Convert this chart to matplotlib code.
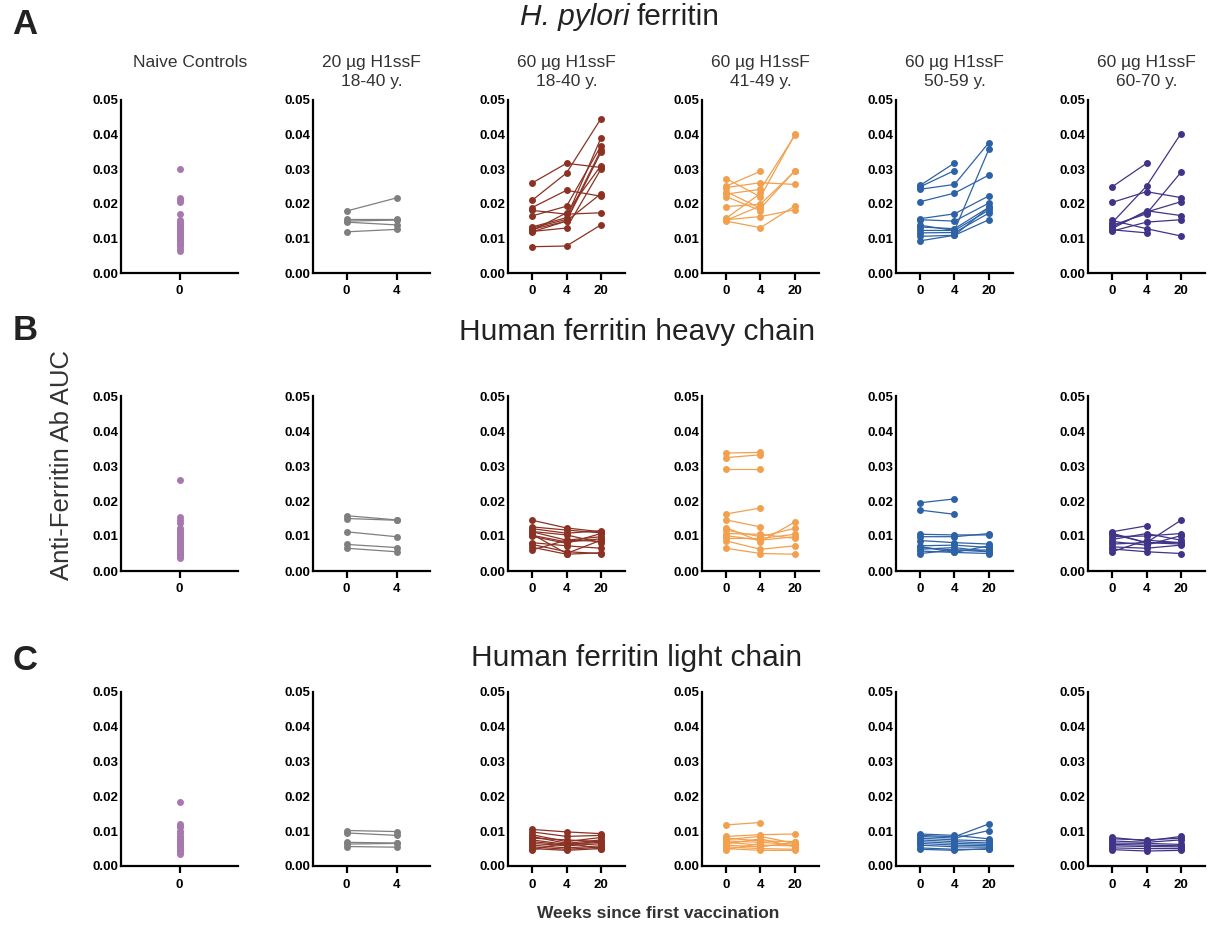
import numpy as np
import matplotlib
matplotlib.use("Agg")
import matplotlib.pyplot as plt

plt.rcParams['font.family'] = ['Liberation Sans', 'DejaVu Sans']

nan = np.nan

# column headers and colours
col_titles = ['Naive Controls', '20 µg H1ssF\n18-40 y.', '60 µg H1ssF\n18-40 y.',
              '60 µg H1ssF\n41-49 y.', '60 µg H1ssF\n50-59 y.', '60 µg H1ssF\n60-70 y.']
col_colors = ['#a877b0', '#7f7f7f', '#8c3224', '#f2a04e', '#2d62a6', '#3f3488']
row_titles = ['ferritin', 'Human ferritin heavy chain', 'Human ferritin light chain']
row_letters = ['A', 'B', 'C']
weeks_short = ['0', '4']
weeks_long = ['0', '4', '20']

# ---- row A : H. pylori ferritin ----
a_naive = [0.0302, 0.0218, 0.0212, 0.0204, 0.0171, 0.0152, 0.0148, 0.0143, 0.0139,
           0.0135, 0.0130, 0.0127, 0.0123, 0.0120, 0.0116, 0.0112, 0.0108, 0.0105,
           0.0101, 0.0097, 0.0093, 0.0088, 0.0083, 0.0077, 0.0070, 0.0063]
a_20_1840 = [[0.0179, 0.0217], [0.0155, 0.0155], [0.0150, 0.0153],
             [0.0147, 0.0139], [0.0119, 0.0126]]
a_60_1840 = [[0.0260, 0.0317, 0.0305], [0.0210, 0.0289, 0.0446], [0.0189, 0.0239, 0.0222],
             [0.0181, 0.0170, 0.0174], [0.0165, 0.0193, 0.0367], [0.0133, 0.0160, 0.0390],
             [0.0130, 0.0155, 0.0355], [0.0126, 0.0150, 0.0349], [0.0122, 0.0174, 0.0310],
             [0.0119, 0.0150, 0.0229], [0.0120, 0.0130, 0.0300], [0.0076, 0.0078, 0.0139]]
a_60_4149 = [[0.0273, 0.0220, 0.0401], [0.0251, 0.0294, nan], [0.0247, 0.0261, 0.0256],
             [0.0235, 0.0187, 0.0296], [0.0228, 0.0242, 0.0398], [0.0221, 0.0180, nan],
             [0.0192, 0.0199, 0.0294], [0.0158, 0.0230, nan], [0.0154, 0.0163, 0.0183],
             [0.0150, 0.0131, 0.0194], [0.0152, 0.0194, nan]]
a_60_5059 = [[0.0253, 0.0318, nan], [0.0249, 0.0296, nan], [0.0242, 0.0256, 0.0377],
             [0.0206, 0.0231, 0.0283], [0.0157, 0.0171, 0.0223], [0.0154, 0.0150, 0.0202],
             [0.0138, 0.0123, 0.0358], [0.0133, 0.0128, 0.0190], [0.0123, 0.0123, 0.0182],
             [0.0116, 0.0117, 0.0173], [0.0106, 0.0109, 0.0190], [0.0093, 0.0109, 0.0154]]
a_60_6070 = [[0.0249, 0.0317, nan], [0.0204, 0.0235, 0.0218], [0.0145, 0.0251, 0.0403],
             [0.0138, 0.0171, 0.0291], [0.0133, 0.0176, 0.0206], [0.0128, 0.0180, 0.0166],
             [0.0121, 0.0147, 0.0154], [0.0152, 0.0128, 0.0107], [0.0125, 0.0116, nan]]

# ---- row B : human ferritin heavy chain ----
b_naive = [0.0261, 0.0153, 0.0147, 0.0138, 0.0122, 0.0118, 0.0113, 0.0108, 0.0103,
           0.0098, 0.0093, 0.0088, 0.0083, 0.0079, 0.0074, 0.0070, 0.0066, 0.0062,
           0.0058, 0.0054, 0.0050, 0.0046, 0.0042, 0.0038]
b_20_1840 = [[0.0158, 0.0146], [0.0150, 0.0145], [0.0112, 0.0098],
             [0.0076, 0.0067], [0.0065, 0.0055]]
b_60_1840 = [[0.0145, 0.0123, 0.0112], [0.0126, 0.0117, 0.0109], [0.0121, 0.0108, 0.0115],
             [0.0112, 0.0088, 0.0098], [0.0105, 0.0050, 0.0088], [0.0099, 0.0079, 0.0107],
             [0.0113, 0.0103, 0.0081], [0.0081, 0.0072, 0.0065], [0.0076, 0.0055, 0.0050],
             [0.0068, 0.0048, 0.0052], [0.0060, 0.0088, 0.0085], [0.0102, 0.0083, 0.0092]]
b_60_4149 = [[0.0337, 0.0339, nan], [0.0324, 0.0332, nan], [0.0291, 0.0291, nan],
             [0.0163, 0.0180, nan], [0.0146, 0.0126, nan], [0.0124, 0.0084, 0.0140],
             [0.0117, 0.0098, 0.0122], [0.0107, 0.0105, 0.0093], [0.0101, 0.0088, 0.0098],
             [0.0093, 0.0093, 0.0105], [0.0086, 0.0062, 0.0072], [0.0065, 0.0050, 0.0048]]
b_60_5059 = [[0.0195, 0.0206, nan], [0.0174, 0.0162, nan], [0.0105, 0.0103, 0.0103],
             [0.0098, 0.0098, 0.0107], [0.0087, 0.0081, 0.0077], [0.0072, 0.0074, 0.0067],
             [0.0067, 0.0060, 0.0060], [0.0062, 0.0067, 0.0055], [0.0057, 0.0053, 0.0050],
             [0.0050, 0.0060, 0.0055], [0.0070, 0.0053, 0.0072]]
b_60_6070 = [[0.0112, 0.0129, nan], [0.0105, 0.0081, 0.0145], [0.0098, 0.0100, 0.0107],
             [0.0090, 0.0107, 0.0088], [0.0084, 0.0074, 0.0101], [0.0077, 0.0081, 0.0081],
             [0.0069, 0.0065, 0.0074], [0.0063, 0.0055, 0.0050], [0.0055, 0.0088, 0.0081],
             [0.0108, 0.0081, 0.0077]]

# ---- row C : human ferritin light chain ----
c_naive = [0.0185, 0.0121, 0.0116, 0.0111, 0.0100, 0.0095, 0.0087, 0.0083, 0.0079,
           0.0075, 0.0071, 0.0067, 0.0063, 0.0059, 0.0055, 0.0051, 0.0047, 0.0043,
           0.0039, 0.0035]
c_20_1840 = [[0.0102, 0.0099], [0.0095, 0.0088], [0.0068, 0.0066],
             [0.0063, 0.0065], [0.0056, 0.0054]]
c_60_1840 = [[0.0105, 0.0098, 0.0093], [0.0098, 0.0085, 0.0088], [0.0090, 0.0070, 0.0082],
             [0.0085, 0.0065, 0.0075], [0.0080, 0.0075, 0.0070], [0.0075, 0.0062, 0.0068],
             [0.0070, 0.0060, 0.0072], [0.0065, 0.0058, 0.0064], [0.0060, 0.0052, 0.0058],
             [0.0055, 0.0048, 0.0054], [0.0050, 0.0045, 0.0050], [0.0046, 0.0068, 0.0048]]
c_60_4149 = [[0.0118, 0.0125, nan], [0.0085, 0.0090, 0.0092], [0.0080, 0.0072, 0.0070],
             [0.0076, 0.0085, 0.0065], [0.0072, 0.0068, 0.0062], [0.0068, 0.0060, 0.0058],
             [0.0064, 0.0078, 0.0055], [0.0060, 0.0055, 0.0068], [0.0055, 0.0050, 0.0048],
             [0.0050, 0.0045, 0.0045], [0.0047, 0.0065, nan]]
c_60_5059 = [[0.0092, 0.0088, 0.0078], [0.0088, 0.0084, 0.0121], [0.0085, 0.0080, 0.0102],
             [0.0080, 0.0075, 0.0072], [0.0075, 0.0070, 0.0066], [0.0070, 0.0065, 0.0062],
             [0.0065, 0.0060, 0.0058], [0.0060, 0.0055, 0.0054], [0.0052, 0.0048, 0.0048],
             [0.0048, 0.0045, 0.0050]]
c_60_6070 = [[0.0082, 0.0072, 0.0085], [0.0078, 0.0075, 0.0080], [0.0072, 0.0068, 0.0075],
             [0.0066, 0.0065, 0.0062], [0.0062, 0.0060, 0.0058], [0.0058, 0.0056, 0.0055],
             [0.0052, 0.0050, 0.0050], [0.0047, 0.0043, 0.0045]]

rows = [
    [a_naive, a_20_1840, a_60_1840, a_60_4149, a_60_5059, a_60_6070],
    [b_naive, b_20_1840, b_60_1840, b_60_4149, b_60_5059, b_60_6070],
    [c_naive, c_20_1840, c_60_1840, c_60_4149, c_60_5059, c_60_6070],
]

# ---- layout (pixels) ----
W, H = 1212, 926
fig = plt.figure(figsize=(W / 100, H / 100), dpi=100)

lefts = [121, 313, 508, 702, 896, 1088]
width = 117
tops = [100, 396, 692]
bottoms = [273, 571, 866]
xlims = [(-1.0, 1.0), (-0.67, 1.67), (-0.70, 2.7)]


def px_axes(x0, y_top, w, y_bot):
    return fig.add_axes([x0 / W, 1 - y_bot / H, w / W, (y_bot - y_top) / H])


for r, row in enumerate(rows):
    for c, data in enumerate(row):
        ax = px_axes(lefts[c], tops[r], width, bottoms[r])
        col = col_colors[c]
        if c == 0:
            ax.plot(np.zeros(len(data)), data, 'o', color=col, ms=5, mec='none')
            ax.set_xticks([0])
            ax.set_xticklabels(['0'])
            ax.set_xlim(*xlims[0])
        else:
            labels = weeks_short if c == 1 else weeks_long
            xs = np.arange(len(labels))
            for subj in data:
                ax.plot(xs, subj, '-o', color=col, lw=0.9, ms=5, mec='none')
            ax.set_xticks(xs)
            ax.set_xticklabels(labels)
            ax.set_xlim(*(xlims[1] if c == 1 else xlims[2]))
        ax.set_ylim(0, 0.05)
        ax.set_yticks([0, 0.01, 0.02, 0.03, 0.04, 0.05])
        ax.set_yticklabels(['0.00', '0.01', '0.02', '0.03', '0.04', '0.05'])
        for s in ['top', 'right']:
            ax.spines[s].set_visible(False)
        for s in ['left', 'bottom']:
            ax.spines[s].set_linewidth(1.6)
        ax.tick_params(axis='y', length=0, pad=2, labelsize=9.5)
        ax.tick_params(axis='x', length=5, width=1.6, pad=4, labelsize=9.5)
        for lab in ax.get_xticklabels() + ax.get_yticklabels():
            lab.set_fontweight('bold')
        ax.patch.set_visible(False)

        if r == 0:
            cx = lefts[c] + width / 2 + (11 if c == 0 else 0)
            fig.text(cx / W, 1 - 55 / H, col_titles[c], ha='center', va='top',
                     fontsize=12.5, color='#333333', linespacing=1.35)

# row titles
fig.text(630 / W, 1 - 17 / H, 'H. pylori', ha='right', va='center',
         fontsize=21.5, style='italic', color='#222222')
fig.text(637 / W, 1 - 17 / H, row_titles[0], ha='left', va='center',
         fontsize=21.5, color='#222222')
fig.text(637 / W, 1 - 332 / H, row_titles[1], ha='center', va='center',
         fontsize=21.5, color='#222222')
fig.text(637 / W, 1 - 658 / H, row_titles[2], ha='center', va='center',
         fontsize=21.5, color='#222222')

# panel letters
for letter, y in zip(row_letters, [25, 331, 661]):
    fig.text(25 / W, 1 - y / H, letter, ha='center', va='center',
             fontsize=25, fontweight='bold', color='#222222')

fig.text(62 / W, 1 - 465 / H, 'Anti-Ferritin Ab AUC', rotation=90, ha='center',
         va='center', fontsize=18.5, color='#333333')
fig.text(658 / W, 1 - 913 / H, 'Weeks since first vaccination', ha='center',
         va='center', fontsize=12.5, fontweight='bold', color='#333333')

fig.savefig('out.png', dpi=100)
